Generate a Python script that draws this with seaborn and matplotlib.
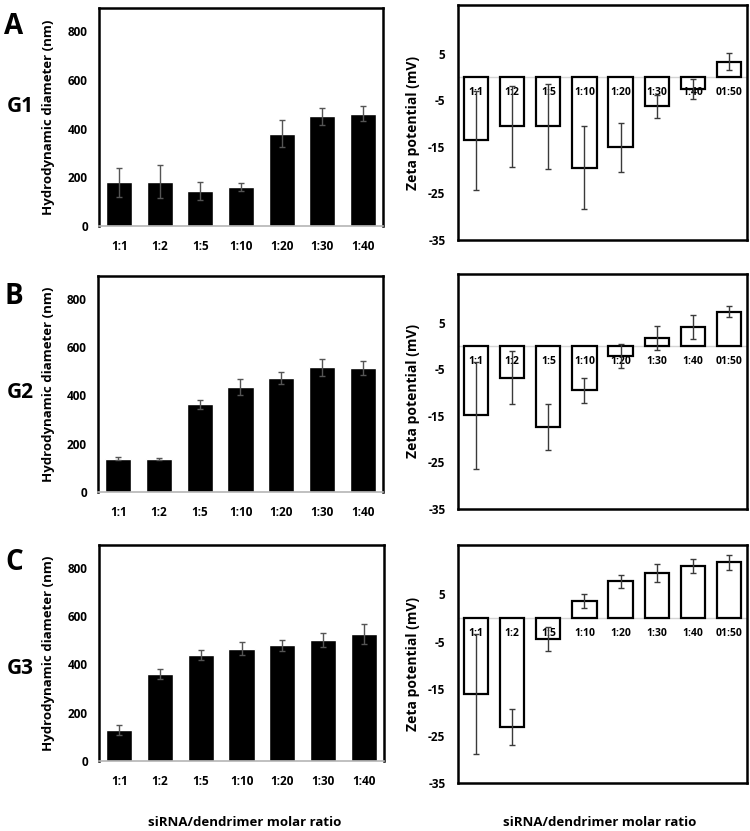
import matplotlib
matplotlib.use('Agg')
import matplotlib.pyplot as plt
import seaborn as sns
import numpy as np

##################################################################################
# data
##################################################################################
size_ratios = ['1:1', '1:2', '1:5', '1:10', '1:20', '1:30', '1:40']
zeta_ratios = ['1:1', '1:2', '1:5', '1:10', '1:20', '1:30', '1:40', '01:50']

# hydrodynamic diameter (nm) and errors for G1, G2, G3
g1_size = [179, 182, 145, 160, 379, 450, 461]
g1_size_err = [58, 68, 37, 15, 56, 35, 30]
g2_size = [138, 137, 363, 435, 471, 516, 512]
g2_size_err = [6, 4, 18, 33, 25, 36, 29]
g3_size = [128, 360, 440, 465, 480, 501, 526]
g3_size_err = [22, 20, 22, 27, 23, 29, 43]

# zeta potential (mV) and errors for G1, G2, G3
g1_zeta = [-13.6, -10.6, -10.6, -19.5, -15.1, -6.3, -2.5, 3.3]
g1_zeta_err = [10.7, 8.8, 9.1, 8.9, 5.2, 2.5, 2.1, 1.8]
g2_zeta = [-14.9, -6.8, -17.4, -9.5, -2.1, 1.8, 4.1, 7.4]
g2_zeta_err = [11.4, 5.7, 4.9, 2.7, 2.6, 2.6, 2.5, 1.2]
g3_zeta = [-16.1, -23.1, -4.4, 3.6, 7.8, 9.6, 11.0, 11.8]
g3_zeta_err = [12.7, 3.8, 2.6, 1.4, 1.4, 1.9, 1.5, 1.6]

panel_letters = ['A', 'B', 'C']
gen_labels = ['G1', 'G2', 'G3']
size_ticks = [0, 200, 400, 600, 800]
zeta_ticks = [-35, -25, -15, -5, 5]

##################################################################################
# plotting
##################################################################################
sns.set_style('white')
plt.rcParams['font.family'] = ['Open Sans', 'DejaVu Sans']
plt.rcParams['font.weight'] = 'bold'
plt.rcParams['text.color'] = 'black'
plt.rcParams['xtick.color'] = 'black'
plt.rcParams['ytick.color'] = 'black'

W, H = 750, 831
fig = plt.figure(figsize=(W / 100, H / 100), dpi=100)


def px_axes(x0, y0, x1, y1):
    return fig.add_axes([x0 / W, 1 - y1 / H, (x1 - x0) / W, (y1 - y0) / H])


# pixel boxes of the axes
left_boxes = [(99, 8, 383, 226), (98, 276, 383, 492), (99, 545, 384, 761)]
right_boxes = [(458, 5, 747, 240), (458, 274, 747, 509), (458, 545, 747, 783)]

sizes = [(g1_size, g1_size_err), (g2_size, g2_size_err), (g3_size, g3_size_err)]
zetas = [(g1_zeta, g1_zeta_err), (g2_zeta, g2_zeta_err), (g3_zeta, g3_zeta_err)]

err_col = '#3a3a3a'

for k in range(3):
    # ---------------- hydrodynamic diameter
    ax = px_axes(*left_boxes[k])
    vals, errs = sizes[k]
    sns.barplot(x=size_ratios, y=vals, color='black', saturation=1,
                width=0.64, errorbar=None, ax=ax)
    ax.errorbar(np.arange(len(vals)), vals, yerr=errs, fmt='none',
                ecolor='#555555', elinewidth=1, capsize=2.5, capthick=1)
    ax.set_xlim(-0.5, 6.5)
    ax.set_ylim(0, 895)
    ax.set_yticks(size_ticks, labels=[str(t) for t in size_ticks])
    ax.tick_params(length=0, labelsize=8.5, pad=8)
    ax.tick_params(axis='x', pad=10)
    for s in ['left', 'top', 'right']:
        ax.spines[s].set_color('black')
        ax.spines[s].set_linewidth(1.8)
    ax.spines['bottom'].set_color('#b5b5b5')
    ax.spines['bottom'].set_linewidth(1.2)
    ax.set_xlabel('')
    ax.set_ylabel('')

    yc = (left_boxes[k][1] + left_boxes[k][3]) / 2
    fig.text(49 / W, 1 - yc / H, 'Hydrodynamic diameter (nm)', rotation=90,
             ha='center', va='center', fontsize=9.5, fontweight='bold')

    # ---------------- zeta potential
    ax = px_axes(*right_boxes[k])
    vals, errs = zetas[k]
    ax.axhline(0, color='#d4d4d4', lw=1, zorder=0)
    sns.barplot(x=zeta_ratios, y=vals, color='white', saturation=1,
                edgecolor='black', linewidth=1.6, width=0.67,
                errorbar=None, ax=ax)
    for i, lab in enumerate(zeta_ratios):
        ax.annotate(lab, xy=(i, 0), xytext=(0, -15),
                    textcoords='offset pixels', ha='center', va='center',
                    fontsize=7.5, fontweight='bold', zorder=3)
    ax.errorbar(np.arange(len(vals)), vals, yerr=errs, fmt='none',
                ecolor=err_col, elinewidth=1, capsize=2.5, capthick=1,
                zorder=4)
    ax.set_xlim(-0.5, 7.5)
    ax.set_ylim(-35, 15.5)
    ax.set_xticks([])
    ax.set_yticks(zeta_ticks, labels=[str(t) for t in zeta_ticks])
    ax.tick_params(length=0, labelsize=8.5, pad=9)
    for s in ax.spines.values():
        s.set_color('black')
        s.set_linewidth(1.8)
    ax.set_xlabel('')
    ax.set_ylabel('')

    yc = (right_boxes[k][1] + right_boxes[k][3]) / 2
    fig.text(413 / W, 1 - yc / H, 'Zeta potential (mV)', rotation=90,
             ha='center', va='center', fontsize=10, fontweight='bold')

# panel letters and generation labels
letter_y = [27, 296, 563]
gen_y = [106, 392, 668]
for k in range(3):
    fig.text(14 / W, 1 - letter_y[k] / H, panel_letters[k], ha='center',
             va='center', fontsize=20, fontweight='bold')
    fig.text(20 / W, 1 - gen_y[k] / H, gen_labels[k], ha='center',
             va='center', fontsize=15, fontweight='bold')

# shared x labels
fig.text(245 / W, 1 - 822 / H, 'siRNA/dendrimer molar ratio', ha='center',
         va='center', fontsize=9.5, fontweight='bold')
fig.text(600 / W, 1 - 822 / H, 'siRNA/dendrimer molar ratio', ha='center',
         va='center', fontsize=9.5, fontweight='bold')

plt.savefig('out.png', dpi=100)
